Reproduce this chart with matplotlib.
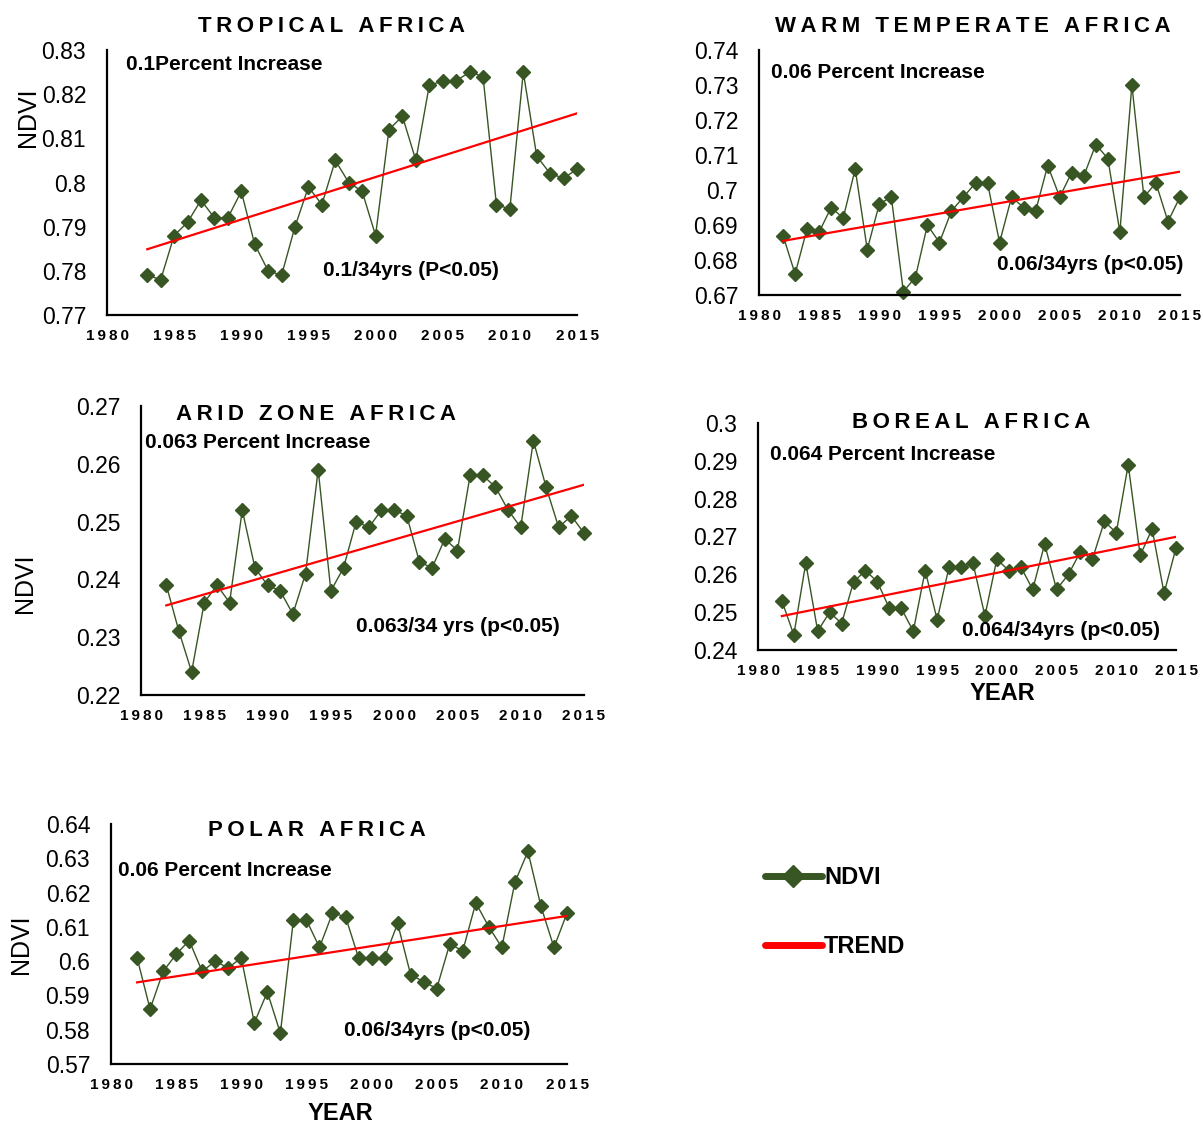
import numpy as np
import matplotlib
matplotlib.use('Agg')
import matplotlib.pyplot as plt
from matplotlib.lines import Line2D
from matplotlib.ticker import FuncFormatter

plt.rcParams['font.family'] = ['Liberation Sans', 'DejaVu Sans']

W, H = 1203, 1124
GREEN = '#375623'
THIN = '\u2009'

# annual mean NDVI per climate zone
years_tropical = np.arange(1983, 2016)
ndvi_tropical = [0.779, 0.778, 0.788, 0.791, 0.796, 0.792, 0.792, 0.798, 0.786, 0.780,
                 0.779, 0.790, 0.799, 0.795, 0.805, 0.800, 0.798, 0.788, 0.812, 0.815,
                 0.805, 0.822, 0.823, 0.823, 0.825, 0.824, 0.795, 0.794, 0.825, 0.806,
                 0.802, 0.801, 0.803]

years = np.arange(1982, 2016)
ndvi_warm = [0.687, 0.676, 0.689, 0.688, 0.695, 0.692, 0.706, 0.683, 0.696, 0.698,
             0.671, 0.675, 0.690, 0.685, 0.694, 0.698, 0.702, 0.702, 0.685, 0.698,
             0.695, 0.694, 0.707, 0.698, 0.705, 0.704, 0.713, 0.709, 0.688, 0.730,
             0.698, 0.702, 0.691, 0.698]
ndvi_arid = [0.239, 0.231, 0.224, 0.236, 0.239, 0.236, 0.252, 0.242, 0.239, 0.238,
             0.234, 0.241, 0.259, 0.238, 0.242, 0.250, 0.249, 0.252, 0.252, 0.251,
             0.243, 0.242, 0.247, 0.245, 0.258, 0.258, 0.256, 0.252, 0.249, 0.264,
             0.256, 0.249, 0.251, 0.248]
ndvi_boreal = [0.253, 0.244, 0.263, 0.245, 0.250, 0.247, 0.258, 0.261, 0.258, 0.251,
               0.251, 0.245, 0.261, 0.248, 0.262, 0.262, 0.263, 0.249, 0.264, 0.261,
               0.262, 0.256, 0.268, 0.256, 0.260, 0.266, 0.264, 0.274, 0.271, 0.289,
               0.265, 0.272, 0.255, 0.267]
ndvi_polar = [0.601, 0.586, 0.597, 0.602, 0.606, 0.597, 0.600, 0.598, 0.601, 0.582,
              0.591, 0.579, 0.612, 0.612, 0.604, 0.614, 0.613, 0.601, 0.601, 0.601,
              0.611, 0.596, 0.594, 0.592, 0.605, 0.603, 0.617, 0.610, 0.604, 0.623,
              0.632, 0.616, 0.604, 0.614]

year_ticks = [1980, 1985, 1990, 1995, 2000, 2005, 2010, 2015]


def spaced(s):
    return THIN.join(s)


def px(x, y):
    return x / W, 1 - y / H


def box(left, top, right, bottom):
    return [left / W, 1 - bottom / H, (right - left) / W, (bottom - top) / H]


def fmt(v, pos):
    return ('%.2f' % v).rstrip('0').rstrip('.')


fig = plt.figure(figsize=(W / 100, H / 100), dpi=100)


def panel(rect, x, y, ylim, title, title_at, note, note_at, stat, stat_at):
    ax = fig.add_axes(box(*rect))
    x = np.asarray(x)
    ax.plot(x, y, color=GREEN, lw=1.0, marker='D', ms=7.5, clip_on=False, zorder=2)
    slope, icpt = np.polyfit(x, y, 1)
    ax.plot(x, slope * x + icpt, color='red', lw=1.6, zorder=3)
    ax.set_xlim(1980, 2015)
    ax.set_ylim(*ylim)
    ax.set_xticks(year_ticks)
    ax.set_xticklabels([spaced(str(t)) for t in year_ticks], fontweight='bold', fontsize=11)
    n = int(round((ylim[1] - ylim[0]) / 0.01))
    ax.set_yticks(np.linspace(ylim[0], ylim[1], n + 1))
    ax.yaxis.set_major_formatter(FuncFormatter(fmt))
    ax.tick_params(axis='y', length=0, pad=15, labelsize=16.5)
    ax.tick_params(axis='x', length=0, pad=10)
    for s in ['top', 'right']:
        ax.spines[s].set_visible(False)
    for s in ['left', 'bottom']:
        ax.spines[s].set_linewidth(1.6)
        ax.spines[s].set_color('black')
    fig.text(*px(*title_at), spaced(title), ha='center', va='center',
             fontsize=16, fontweight='bold')
    fig.text(*px(*note_at), note, ha='left', va='center', fontsize=15, fontweight='bold')
    fig.text(*px(*stat_at), stat, ha='left', va='center', fontsize=15, fontweight='bold')
    return ax


panel((107, 50, 577, 315), years_tropical, ndvi_tropical, (0.77, 0.83),
      'TROPICAL AFRICA', (332, 27), '0.1Percent Increase', (126, 64),
      '0.1/34yrs (P<0.05)', (323, 270))
panel((759, 50, 1180, 295), years, ndvi_warm, (0.67, 0.74),
      'WARM TEMPERATE AFRICA', (973, 27), '0.06 Percent Increase', (771, 72),
      '0.06/34yrs (p<0.05)', (997, 264))
panel((141, 406, 584, 695), years, ndvi_arid, (0.22, 0.27),
      'ARID ZONE AFRICA', (316, 415), '0.063 Percent Increase', (145, 443),
      '0.063/34 yrs (p<0.05)', (356, 626))
panel((758, 423, 1176, 650), years, ndvi_boreal, (0.24, 0.30),
      'BOREAL AFRICA', (971, 423), '0.064 Percent Increase', (770, 454),
      '0.064/34yrs (p<0.05)', (962, 631))
panel((111, 824, 567, 1064), years, ndvi_polar, (0.57, 0.64),
      'POLAR AFRICA', (317, 831), '0.06 Percent Increase', (118, 870),
      '0.06/34yrs (p<0.05)', (344, 1031))

# axis titles
for xy in [(28, 117), (25, 583), (21, 944)]:
    fig.text(*px(*xy), 'NDVI', rotation=90, ha='center', va='center', fontsize=18)
for xy in [(1002, 693), (340, 1113)]:
    fig.text(*px(*xy), 'YEAR', ha='center', va='center', fontsize=17, fontweight='bold')

handles = [Line2D([], [], color=GREEN, lw=5, marker='D', ms=11, solid_capstyle='round'),
           Line2D([], [], color='red', lw=5, solid_capstyle='round')]
fig.legend(handles, ['NDVI', 'TREND'], loc='upper left', bbox_to_anchor=px(765, 866),
           frameon=False, prop=dict(weight='bold', size=17), handlelength=2.4,
           handletextpad=0.1, labelspacing=1.95, borderpad=0, borderaxespad=0)

fig.savefig('out.png', dpi=100)
